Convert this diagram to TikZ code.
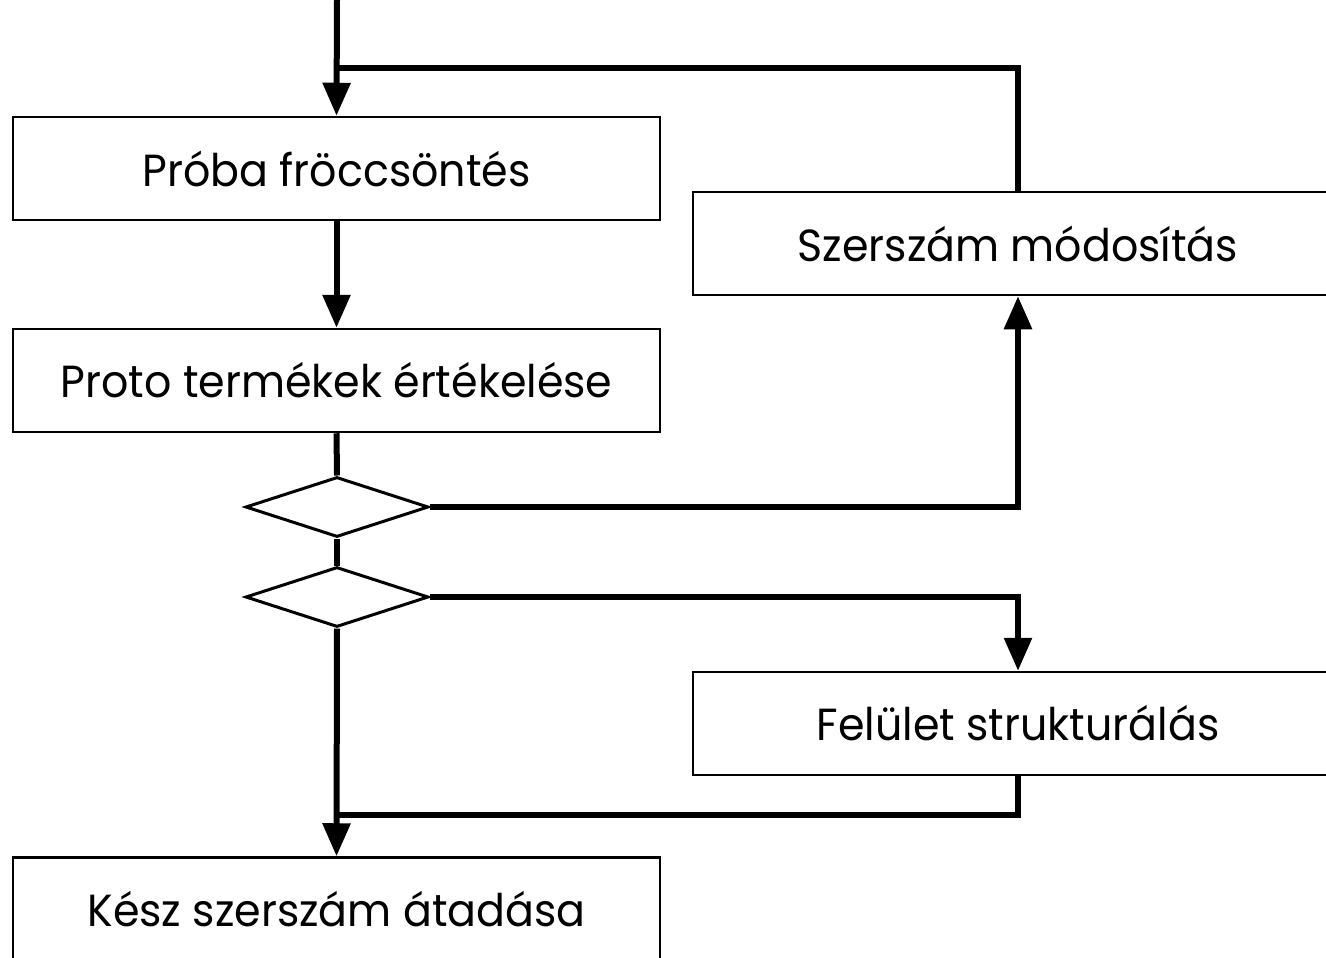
\documentclass[tikz,border=0pt]{standalone}
\usepackage{fontspec}
\setmainfont[FakeStretch=0.95]{Poppins}
\usetikzlibrary{arrows.meta,shapes.geometric}
\tikzset{
  box/.style={draw, line width=2.5pt, rectangle, minimum height=103pt, inner sep=0pt, font=\fontsize{45}{52}\selectfont},
  dec/.style={draw, line width=3pt, diamond, minimum width=183pt, minimum height=60pt, inner sep=0pt},
  conn/.style={line width=6pt, line join=miter},
  arr/.style={conn, -{Triangle[length=33pt,width=27pt]}}
}
\begin{document}
\begin{tikzpicture}[x=1pt,y=-1pt]
\useasboundingbox (0,0) rectangle (1326,958);
\clip (0,0) rectangle (1326,958);
\node[box, minimum width=647pt] (p1) at (336.5,168.5) {Próba fröccsöntés};
\node[box, minimum width=647pt] (p2) at (336.5,380.5) {Proto termékek értékelése};
\node[box, minimum width=647pt] (kesz) at (336.5,909) {Kész szerszám átadása};
\node[box, minimum width=650pt] (szm) at (1018,243.5) {Szerszám módosítás};
\node[box, minimum width=650pt] (fel) at (1018,723.5) {Felület strukturálás};
\node[dec] (d1) at (337,507) {};
\node[dec] (d2) at (337,597) {};
\coordinate (top) at (337,0);
\coordinate (j1) at (337,68);
\coordinate (j2) at (337,815);
\draw[arr] (top) -- (p1.north);
\draw[conn] (szm.north) |- (j1);
\draw[arr] (p1.south) -- (p2.north);
\draw[conn] (p2.south) -- (d1.north);
\draw[arr] (d1.east) -| (szm.south);
\draw[conn] (d1.south) -- (d2.north);
\draw[arr] (d2.east) -| (fel.north);
\draw[arr] (d2.south) -- (kesz.north);
\draw[conn] (fel.south) |- (j2);
\end{tikzpicture}
\end{document}
